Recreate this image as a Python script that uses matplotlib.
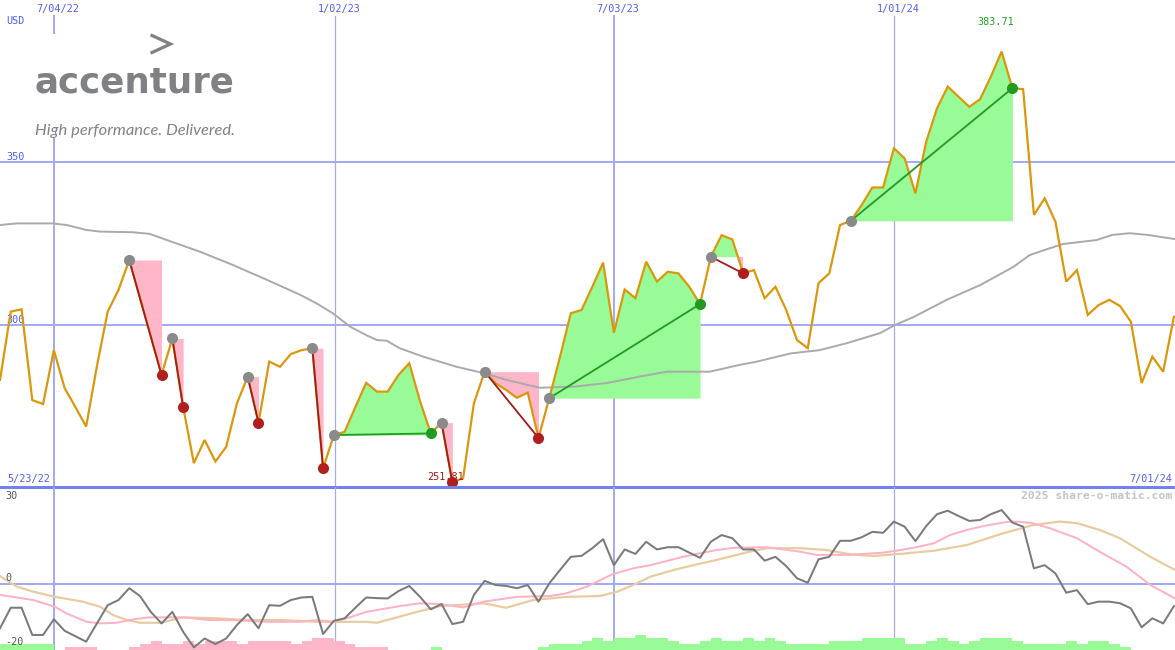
import matplotlib
matplotlib.use("Agg")
import matplotlib.pyplot as plt
from matplotlib.lines import Line2D
from matplotlib.patches import Rectangle
from matplotlib.transforms import blended_transform_factory, offset_copy
import numpy as np

# ---------------- data ----------------
weeks = list(range(110))
price = [283.2, 304.1, 304.8, 277.0, 275.8, 292.3, 280.7, 274.9, 268.9, 287.4,
         304.1, 310.7, 319.9, 308.2, 296.5, 284.7, 295.9, 275.0, 257.7, 264.8,
         258.2, 262.7, 276.0, 284.2, 270.1, 288.8, 287.2, 291.1, 292.3, 292.9,
         256.1, 266.3, 267.3, 274.9, 282.3, 279.6, 279.6, 284.7, 288.3, 276.7,
         266.8, 270.1, 251.81, 253.1, 276.0, 285.7, 282.2, 280.1, 277.7, 279.3,
         265.4, 277.6, 290.3, 303.6, 304.6, 311.7, 319.1, 297.6, 310.9, 308.2,
         319.4, 313.3, 316.3, 315.8, 311.7, 306.4, 320.9, 327.5, 326.2, 315.8,
         316.8, 308.2, 311.7, 304.6, 295.4, 292.9, 312.8, 315.8, 330.6, 331.9,
         336.7, 342.1, 342.1, 354.1, 351.0, 340.3, 356.1, 366.3, 373.0, 369.9,
         366.8, 369.1, 376.0, 383.71, 372.5, 372.2, 333.7, 338.8, 331.6, 313.3,
         316.8, 303.1, 306.1, 307.7, 305.8, 301.0, 282.2, 290.3, 285.7, 302.5]

ma_weeks = [0, 1.55, 4.9, 6.2, 8, 9.3, 12.3, 13.9, 15.5, 18.6,
            21.6, 24.8, 27.9, 29.4, 30.9, 32.5, 34, 35, 35.9, 37.1,
            39.3, 42.4, 45, 47, 50.1, 53.2, 56.3, 59.4, 61.9, 65.9,
            68.7, 70.3, 73.4, 76.1, 78.6, 81.7, 83.1, 84.8, 87.9, 91,
            94.1, 95.6, 97.2, 98.7, 101.8, 103.3, 104.9, 106.5, 109.1]
ma_values = [330.6, 331.1, 331.1, 330.6, 329.1, 328.6, 328.4, 327.9, 326.0, 322.4,
             318.4, 313.8, 309.2, 306.6, 303.6, 299.5, 296.9, 295.4, 295.2, 292.9,
             290.3, 287.2, 285.2, 283.2, 280.8, 281.1, 282.2, 284.2, 285.7, 285.7,
             287.8, 288.8, 291.3, 292.3, 294.4, 297.5, 300.0, 302.4, 307.7, 312.2,
             317.8, 321.4, 323.2, 324.8, 326.0, 327.6, 328.1, 327.6, 326.3]

trade_entry = [12, 16, 23, 29, 31, 41, 45, 51, 66, 79]
trade_exit = [15, 17, 24, 30, 40, 42, 50, 65, 69, 94]

osc = [-13.8, -7.4, -7.4, -15.9, -15.9, -11.0, -14.6, -16.3, -18.0, -12.3,
       -6.6, -5.0, -1.3, -3.75, -8.7, -12.3, -8.7, -14.9, -19.8, -17.0,
       -18.75, -17.0, -12.8, -9.4, -13.8, -6.6, -6.8, -5.0, -4.2, -4.0,
       -15.6, -11.5, -10.7, -7.4, -4.2, -4.4, -4.5, -2.2, -0.6, -4.0,
       -7.9, -6.25, -12.5, -11.8, -3.4, 1.0, -0.3, -0.6, -1.3, -0.3,
       -5.5, 0.2, 4.4, 8.5, 8.8, 11.2, 14.0, 5.9, 10.8, 9.4,
       13.2, 10.8, 11.5, 11.5, 9.8, 8.2, 13.2, 15.3, 14.3, 10.8,
       10.8, 7.3, 8.5, 5.6, 1.8, 0.4, 7.7, 8.5, 13.5, 13.5,
       14.6, 16.3, 16.0, 19.5, 17.9, 13.4, 18.1, 21.8, 22.9, 21.25,
       19.7, 20.0, 21.8, 23.1, 19.2, 17.9, 4.9, 5.9, 3.3, -2.7,
       -1.9, -6.3, -5.5, -5.5, -6.0, -7.6, -13.5, -10.7, -12.3, -6.9]

pk_weeks = [0, 3.1, 5.1, 6.2, 8.05, 9.3, 10.8, 12.4, 13.9, 17,
            19.5, 21.6, 24.8, 27.9, 29.4, 30.9, 32.5, 34, 37.1, 39,
            40.9, 43, 44.9, 48, 51.1, 52.6, 54.5, 56.9, 58.8, 60.4,
            63.4, 66.5, 68.1, 71.2, 74.3, 75.8, 78.9, 82, 83.6, 85.1,
            86.7, 88.2, 89.8, 91.3, 93.5, 94.4, 95.9, 97.5, 100, 102.1,
            104.6, 106.8, 109.1]
pk_values = [-3.4, -5.0, -7.1, -9.2, -11.8, -12.3, -12.1, -11.0, -10.4, -10.4,
             -11.25, -11.25, -11.8, -11.8, -11.25, -11.8, -10.4, -8.7, -6.9, -6.0,
             -6.25, -7.3, -5.5, -4.0, -3.75, -2.9, -0.8, 3.1, 4.9, 5.9,
             8.5, 10.6, 11.3, 11.5, 10.1, 9.1, 9.1, 9.8, 10.6, 11.5,
             12.7, 15.3, 16.9, 18.1, 19.4, 19.5, 19.0, 17.4, 14.3, 10.1,
             5.4, -0.3, -4.5]

tn_weeks = [0, 1.55, 3.1, 5.1, 7.7, 9.3, 10.5, 11.8, 13, 14.9,
            17, 20.1, 23.2, 26.3, 29.4, 30.9, 34, 35, 37.1, 38.7,
            40.9, 44.9, 47, 49.5, 52.6, 55.7, 57.3, 58.8, 60.4, 62.8,
            64.4, 66.5, 69.6, 71.2, 74.3, 76.8, 78.9, 81.1, 83.6, 86.7,
            89.8, 92.9, 95.9, 98.4, 100, 102.1, 104, 106.8, 109.1]
tn_values = [2.5, -0.8, -2.4, -4.0, -5.5, -7.1, -9.7, -11.25, -12.1, -12.1,
             -10.4, -10.7, -11.25, -11.25, -11.8, -11.8, -11.8, -12.1, -10.2, -8.7,
             -6.9, -6.0, -7.4, -5.0, -4.0, -3.75, -2.4, -0.3, 2.3, 4.6,
             5.9, 7.5, 10.1, 11.2, 11.2, 10.6, 9.3, 8.75, 9.4, 10.4,
             12.2, 15.6, 18.4, 19.5, 19.0, 16.9, 14.3, 8.5, 4.4]

hist = [2, 2, 2, 2, 2, 0, -1, -1, -1, 0,
        0, 0, -1, -2, -3, -2, -2, -3, -2, -3,
        -3, -3, -2, -3, -3, -3, -3, -2, -3, -4,
        -4, -3, -2, -1, -1, -1, 0, 0, 0, 0,
        1, 0, 0, 0, 0, 0, 0, 0, 0, 0,
        1, 2, 2, 2, 3, 4, 3, 4, 4, 5,
        4, 4, 3, 2, 2, 3, 4, 3, 3, 4,
        3, 4, 3, 2, 2, 2, 2, 3, 3, 3,
        4, 4, 4, 4, 2, 2, 3, 4, 3, 2,
        3, 4, 4, 4, 3, 2, 2, 2, 2, 3,
        2, 3, 3, 2, 1, 0, 0, 0, 0, 0]

tick_weeks = [5, 31.1, 57, 83]
tick_labels = ["7/04/22", "1/02/23", "7/03/23", "1/01/24"]
price_ticks = [350, 300]
osc_ticks = [30, 0, -20]
start_label = "5/23/22"
end_label = "7/01/24"
currency = "USD"

# ---------------- styling ----------------
W, H = 1175, 650
SPLIT = 487
GRID = "#a3acf2"
BLUE_TXT = "#4f5ff0"
ORANGE = "#dc960a"
GREEN_FILL = "#98fb98"
PINK_FILL = "#ffb6c8"
MONO = "DejaVu Sans Mono"
PT = 72.0 / 100.0  # points per pixel

fig = plt.figure(figsize=(W / 100, H / 100), dpi=100)
fig.patch.set_facecolor("white")
ax = fig.add_axes([0, (H - SPLIT) / H, 1, SPLIT / H])
axb = fig.add_axes([0, 0, 1, (H - SPLIT) / H])
for a in (ax, axb):
    a.set_axis_off()
    a.set_xlim(0, 109.1)
ax.set_ylim(250.4, 399.5)
axb.set_ylim(-20.6, 30.3)

def ftxt(axis, x, y, s, **kw):
    return axis.text(x / W, 1 - y / H, s, transform=fig.transFigure, **kw)

# grid lines
for p in price_ticks:
    ax.axhline(p, color=GRID, lw=2 * PT, zorder=1)
axb.axhline(0, color=GRID, lw=2 * PT, zorder=1)
top_frac = 1 - 16 / SPLIT
for w, lab in zip(tick_weeks, tick_labels):
    lw = 2 * PT if lab.startswith("7/") else 1.2 * PT
    ax.axvline(w, ymin=0, ymax=top_frac, color=GRID, lw=lw, zorder=1)
    axb.axvline(w, color=GRID, lw=lw, zorder=1)
    tr = offset_copy(blended_transform_factory(ax.transData, ax.transAxes), fig=fig, x=4, y=0, units="dots")
    ax.text(w, 1 - 9 / SPLIT, lab, transform=tr, ha="center", va="center",
            fontsize=7.3, family=MONO, color=BLUE_TXT, zorder=8)
ax.add_line(Line2D([0, 1], [0, 0], transform=ax.transAxes, color="#7282ea",
                   lw=3 * PT, zorder=7, clip_on=False))

# labels
ftxt(ax, 6, 21, currency, ha="left", va="center", fontsize=7.3, family=MONO, color=BLUE_TXT, zorder=3.5)
for p in price_ticks:
    ypx = SPLIT * (399.5 - p) / (399.5 - 250.4)
    ftxt(ax, 6, ypx - 5, str(p), ha="left", va="center", fontsize=7.3, family=MONO,
         color=BLUE_TXT, zorder=3.5)
ftxt(ax, 7, 479, start_label, ha="left", va="center", fontsize=7.3, family=MONO, color=BLUE_TXT, zorder=8)
ftxt(ax, 1172, 479, end_label, ha="right", va="center", fontsize=7.3, family=MONO, color=BLUE_TXT, zorder=8)
ftxt(axb, 1172, 496, "2025 share-o-matic.com", ha="right", va="center", fontsize=8.2,
     family=MONO, weight="bold", color="#c4c4c4", zorder=8)
for v in osc_ticks:
    ypx = SPLIT + (H - SPLIT) * (30.3 - v) / (30.3 + 20.6)
    if v == max(osc_ticks):
        ypx = 496
    else:
        ypx -= 6
    ftxt(axb, 5, ypx, str(v), ha="left", va="center", fontsize=7.3, family=MONO,
         color="#555555", zorder=8)

# trades: fills
price_a = np.array(price)
weeks_a = np.array(weeks)
for e, x in zip(trade_entry, trade_exit):
    xs = weeks_a[e:x + 1]
    ys = price_a[e:x + 1]
    lvl = price_a[e]
    ax.fill_between(xs, lvl, ys, where=ys >= lvl, interpolate=True, color=GREEN_FILL, lw=0, zorder=2)
    ax.fill_between(xs, lvl, ys, where=ys <= lvl, interpolate=True, color=PINK_FILL, lw=0, zorder=2)

# moving average
ax.plot(ma_weeks, ma_values, color="#aaaaaa", lw=1.5 * PT * 1.3, zorder=3)
# price line
ax.plot(weeks, price, color=ORANGE, lw=2 * PT * 1.1, zorder=4, solid_joinstyle="miter")

# trade lines and dots
for e, x in zip(trade_entry, trade_exit):
    win = price[x] > price[e]
    lc = "#229a22" if win else "#a31a1a"
    ax.plot([e, x], [price[e], price[x]], color=lc, lw=1.3, zorder=5)
    ax.plot(e, price[e], "o", ms=8, color="#8a8a8a", mec="none", zorder=6)
    ax.plot(x, price[x], "o", ms=8, color=("#229a22" if win else "#b01e1e"), mec="none", zorder=6)

# extreme labels
i_max = int(np.argmax(price_a))
i_min = int(np.argmin(price_a))
ax.annotate(f"{price[i_max]:.2f}", (i_max, price[i_max]), xytext=(-6 * PT, 30 * PT),
            textcoords="offset points", ha="center", va="center", fontsize=7.3,
            family=MONO, color="#22a022", zorder=8)
ax.annotate(f"{price[i_min]:.2f}", (i_min, price[i_min]), xytext=(-7 * PT, 5 * PT),
            textcoords="offset points", ha="center", va="center", fontsize=7.3,
            family=MONO, color="#a31a1a", zorder=5.5)

# lower panel
unit = 3 / 3.2
h_a = np.array(hist)
cols = [GREEN_FILL if v > 0 else PINK_FILL for v in hist]
axb.bar(weeks_a, np.abs(h_a) * unit, bottom=-20.6, width=1.0, align="edge",
        color=cols, lw=0, zorder=2)
axb.plot(tn_weeks, tn_values, color="#e8cc9f", lw=2 * PT * 1.1, zorder=3)
axb.plot(pk_weeks, pk_values, color="#ffb2c6", lw=2 * PT * 1.0, zorder=3.5)
axb.plot(weeks, osc, color="#7a7a7a", lw=2 * PT * 1.0, zorder=4)

# logo
fig.add_artist(Rectangle((30 / W, 1 - 138 / H), 212 / W, 104 / H, transform=fig.transFigure,
                         facecolor="white", edgecolor="none", zorder=5))
fig.add_artist(Line2D([152 / W, 170.5 / W, 152 / W], [1 - 35.5 / H, 1 - 44 / H, 1 - 52.5 / H],
                      transform=fig.transFigure, color="#808285", lw=3.2 * PT, zorder=6,
                      solid_joinstyle="miter"))
t1 = fig.text(35 / W, 1 - 92.5 / H, "accenture", ha="left", va="baseline", fontsize=36,
              family="Liberation Sans Narrow", weight="bold", color="#7f8184", zorder=6)
t2 = fig.text(35 / W, 1 - 135 / H, "High performance. Delivered.", ha="left", va="baseline",
              fontsize=14, family="Lato", style="italic", color="#808285", zorder=6)
fig.canvas.draw()
r = fig.canvas.get_renderer()
for t, target in ((t1, 200.0), (t2, 201.0)):
    wpx = t.get_window_extent(r).width
    t.set_fontsize(t.get_fontsize() * target / wpx)

fig.savefig("out.png", dpi=100, facecolor="white")
